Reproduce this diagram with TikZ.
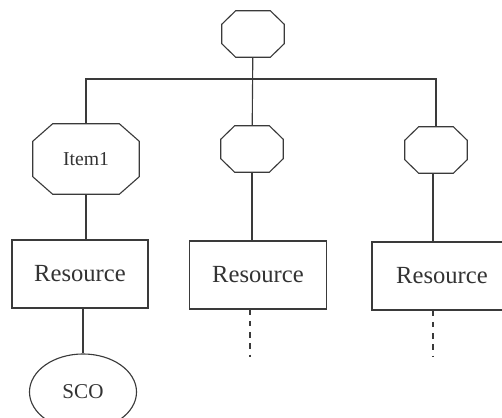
\documentclass[tikz,border=0pt]{standalone}
\usepackage{fontspec}
\setmainfont{Liberation Serif}
\usetikzlibrary{positioning,shapes.geometric,calc}
\definecolor{cLine}{HTML}{3A3A3A}
\definecolor{cText}{HTML}{333333}
\tikzset{
  octbox/.style={rectangle, inner sep=0pt, text=cText,
                 font=\fontsize{14}{17}\selectfont},
  octs/.style={octbox, minimum width=1.55cm, minimum height=1.15cm},
  res/.style={rectangle, draw=cLine, line width=0.8pt, text=cText,
              font=\fontsize{17.5}{21}\selectfont, minimum height=1.7cm},
  sco/.style={ellipse, draw=cLine, line width=0.8pt, text=cText,
              font=\fontsize{15}{18}\selectfont, inner sep=0pt,
              minimum width=2.675cm, minimum height=1.9cm},
  link/.style={draw=cLine, line width=0.8pt},
  linkd/.style={link, dash pattern=on 4pt off 4pt},
}
% outline of an octagon round node #1, corners cut by #2 across and #3 down
\newcommand\octcut[3]{%
  \draw[link, line join=round]
    ($(#1.north west)+(#2,0)$) -- ($(#1.north east)+(-#2,0)$)
    -- ($(#1.north east)+(0,-#3)$) -- ($(#1.south east)+(0,#3)$)
    -- ($(#1.south east)+(-#2,0)$) -- ($(#1.south west)+(#2,0)$)
    -- ($(#1.south west)+(0,#3)$) -- ($(#1.north west)+(0,-#3)$) -- cycle;}

\begin{document}
\begin{tikzpicture}[x=0.025cm, y=-0.025cm]
  \useasboundingbox (0,0) rectangle (502,418);

  \node[octs] (root) at (253,34) {};
  \node[octbox, minimum width=2.65cm, minimum height=1.75cm] (item1) at (86,159) {Item1};
  \node[octs] (item2) at (252,149) {};
  \node[octs] (item3) at (436,150) {};
  \octcut{root}{0.35cm}{0.34cm}
  \octcut{item1}{0.5cm}{0.44cm}
  \octcut{item2}{0.35cm}{0.34cm}
  \octcut{item3}{0.35cm}{0.34cm}

  \node[res, minimum width=3.4cm] (res1) at (80,274) {Resource};
  \node[res, minimum width=3.425cm] (res2) at (258,275) {Resource};
  \node[res, minimum width=3.5cm] (res3) at (442,276) {Resource};

  \node[sco] (sco) at (83,392) {SCO};

  \coordinate (bus) at (253,79);
  \coordinate (end2) at (250,357);
  \coordinate (end3) at (433,357);

  \draw[link] (root) -- (item2);
  \draw[link] (item1) |- (bus) -| (item3);
  \draw[link] (item1) -- (item1 |- res1.north);
  \draw[link] (item2) -- (item2 |- res2.north);
  \draw[link] (item3.south -| end3) -- (end3 |- res3.north);
  \draw[link] (res1.south -| sco) -- (sco);
  \draw[linkd] (res2.south -| end2) -- (end2);
  \draw[linkd] (res3.south -| end3) -- (end3);
\end{tikzpicture}
\end{document}
